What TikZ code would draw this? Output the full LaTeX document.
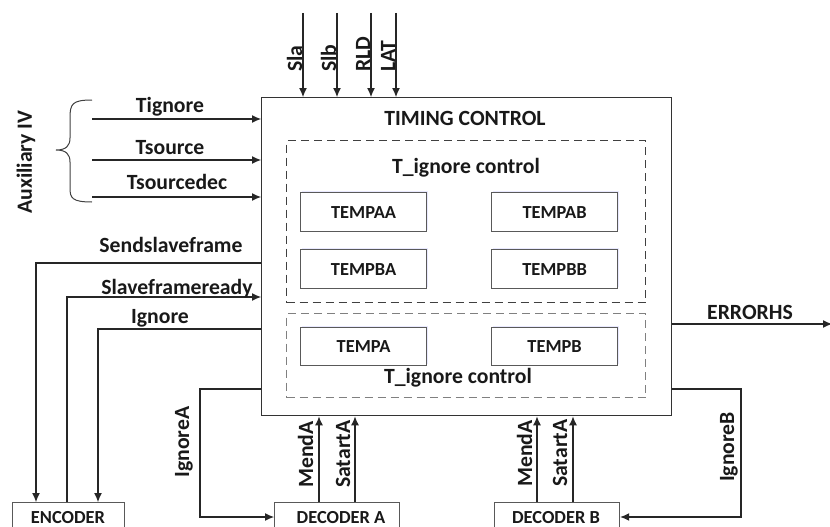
\documentclass[tikz,border=0pt]{standalone}
\usepackage{fontspec}
\setmainfont{Carlito}
\usetikzlibrary{arrows.meta,shadows,calc}
\begin{document}
\begin{tikzpicture}[x=1pt,y=-1pt,
  lbl/.style={font=\fontsize{21.7}{24}\selectfont\bfseries, inner sep=0pt, text=black!90},
  blk/.style={draw=black!65, line width=1.2pt, fill=white, inner sep=0pt, anchor=north west,
              font=\fontsize{18.4}{20}\selectfont\bfseries, text=black!90},
  shd/.style={drop shadow={shadow xshift=1.2pt, shadow yshift=1.2pt, opacity=0.35, fill=blue!25}},
  boxt/.style={font=\fontsize{18.4}{20}\selectfont\bfseries, inner sep=0pt, text=black!90},
  dbox/.style={draw=black!75, dashed, dash pattern=on 8pt off 5pt, line width=1.1pt, inner sep=0pt, anchor=north west},
  arr/.style={-{Latex[length=9pt,width=8pt]}, line width=1.1pt, draw=black!85},
  vlbl/.style={lbl, rotate=90, anchor=base west}]
\useasboundingbox (0,0) rectangle (830,527);
\clip (0,0) rectangle (830,527);

% main block
\node[draw=black!80, line width=1.4pt, minimum width=410pt, minimum height=318pt, inner sep=0pt, anchor=north west] (tc) at (261,97) {};
\node[lbl] (tctitle) at (465,118) {TIMING CONTROL};

% T_ignore control 1
\node[dbox, minimum width=359pt, minimum height=162pt] (tig1) at (286,140) {};
\node[lbl] (tig1t) at (466,168) {T\_ignore control};
\node[blk, shd, minimum width=126pt, minimum height=39pt] (taa) at (300,192) {TEMPAA};
\node[blk, shd, minimum width=126pt, minimum height=39pt] (tab) at (491,192) {TEMPAB};
\node[blk, shd, minimum width=126pt, minimum height=39pt] (tba) at (300,249) {TEMPBA};
\node[blk, shd, minimum width=126pt, minimum height=39pt] (tbb) at (491,249) {TEMPBB};

% T_ignore control 2
\node[dbox, draw=black!50, minimum width=359pt, minimum height=84pt] (tig2) at (286,313) {};
\node[blk, shd, minimum width=126pt, minimum height=38pt] (ta) at (300,327) {TEMPA};
\node[blk, shd, minimum width=126pt, minimum height=38pt] (tb) at (491,327) {TEMPB};
\node[lbl] (tig2t) at (458,378) {T\_ignore control};

% top inputs
\coordinate (sla) at (303,13);
\coordinate (slb) at (337,13);
\coordinate (rld) at (371,13);
\coordinate (lat) at (396,13);
\draw[arr] (sla) -- (sla |- tc.north);
\draw[arr] (slb) -- (slb |- tc.north);
\draw[arr] (rld) -- (rld |- tc.north);
\draw[arr] (lat) -- (lat |- tc.north);
\node[vlbl] (slat) at (302,72) {Sla};
\node[vlbl] (slbt) at (336,72) {Slb};
\node[vlbl] (rldt) at (370,72) {RLD};
\node[vlbl] (latt) at (395,72) {LAT};

% auxiliary inputs
\coordinate (tign) at (92,119);
\coordinate (tsrc) at (92,160);
\coordinate (tsrcd) at (92,197);
\draw[arr] (tign) -- (tign -| tc.west);
\draw[arr] (tsrc) -- (tsrc -| tc.west);
\draw[arr] (tsrcd) -- (tsrcd -| tc.west);
\node[lbl] (tignt) at (170,107) {Tignore};
\node[lbl] (tsrct) at (170,148) {Tsource};
\node[lbl] (tsrcdt) at (177,182) {Tsourcedec};
\draw[line width=1pt, draw=black!75] (92,100) .. controls (72,100) and (70,104) .. (70,118)
  -- (70,138) .. controls (70,146) and (66,150) .. (56,150)
  .. controls (66,150) and (70,154) .. (70,162) -- (70,188)
  .. controls (70,198) and (72,202) .. (92,202);
\node[lbl, rotate=90] (aux) at (26,162) {Auxiliary IV};

% encoder
\node[blk, minimum width=112pt, minimum height=32pt] (enc) at (12,502) {};
\node[boxt] (enct) at (68,518) {ENCODER};
\coordinate (ss) at (36,263);
\coordinate (sr) at (67,297);
\coordinate (ig) at (98,329);
\draw[arr] (ss -| tc.west) -- (ss) -- (ss |- enc.north);
\draw[arr] (sr |- enc.north) -- (sr) -- (sr -| tc.west);
\draw[arr] (ig -| tc.west) -- (ig) -- (ig |- enc.north);
\node[lbl] (sst) at (171,245) {Sendslaveframe};
\node[lbl] (srt) at (177,289) {Slaveframeready};
\node[lbl] (igt) at (160,318) {Ignore};

% decoder A
\node[blk, minimum width=125pt, minimum height=32pt] (deca) at (274,502) {};
\node[boxt] (decat) at (341,518) {DECODER A};
\coordinate (iga) at (200,389);
\coordinate (igab) at (200,517);
\draw[arr] (iga -| tc.west) -- (iga) -- (igab) -- (igab -| deca.west);
\node[lbl, rotate=90] (igat) at (184,442) {IgnoreA};
\coordinate (mea) at (319,0);
\coordinate (saa) at (355,0);
\draw[arr] (mea |- deca.north) -- (mea |- tc.south);
\draw[arr] (saa |- deca.north) -- (saa |- tc.south);
\node[vlbl] (meat) at (313,488) {MendA};
\node[vlbl] (saat) at (350,488) {SatartA};

% decoder B
\node[blk, minimum width=125pt, minimum height=32pt] (decb) at (494,502) {};
\node[boxt] (decbt) at (556,518) {DECODER B};
\coordinate (igb) at (741,389);
\coordinate (igbb) at (741,517);
\draw[arr] (igb -| tc.east) -- (igb) -- (igbb) -- (igbb -| decb.east);
\node[lbl, rotate=90] (igbt) at (729,447) {IgnoreB};
\coordinate (meb) at (537,0);
\coordinate (sab) at (573,0);
\draw[arr] (meb |- decb.north) -- (meb |- tc.south);
\draw[arr] (sab |- decb.north) -- (sab |- tc.south);
\node[vlbl] (mebt) at (532,487) {MendA};
\node[vlbl] (sabt) at (567,487) {SatartA};

% error output
\coordinate (err) at (832,324);
\draw[arr] (err -| tc.east) -- (err);
\node[lbl] (errt) at (750,312) {ERRORHS};
\end{tikzpicture}
\end{document}
